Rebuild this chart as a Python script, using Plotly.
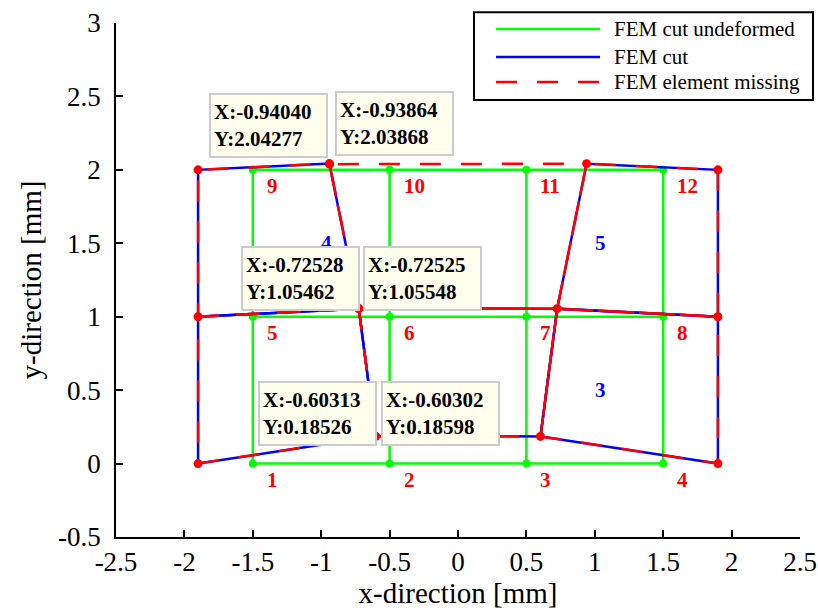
import numpy as np
import plotly.graph_objects as go

# ---------------- data ----------------
# undeformed mesh: 4 x 3 nodes, numbered row by row from the bottom
grid_x = [-1.5, -0.5, 0.5, 1.5]
grid_y = [0.0, 1.0, 2.0]

# deformed outer boundary columns
outer_left_x = -1.9
outer_right_x = 1.9
outer_y = [0.0, 1.0, 2.0]

# duplicated nodes along the cut (left side / right side), top -> bottom
cut_left_x = [-0.94040, -0.72528, -0.60313]
cut_left_y = [2.04277, 1.05462, 0.18526]
cut_right_x = [-0.93864, -0.72525, -0.60302]
cut_right_y = [2.03868, 1.05548, 0.18598]

# inner right column of deformed nodes, top -> bottom
inner_x = [0.9400, 0.7250, 0.6030]
inner_y = [2.0420, 1.0550, 0.1850]

# element connectivity (counter-clockwise) on the deformed nodes
elements_active = {
    1: ["BL", "cLb", "cLm", "ML"],
    2: ["cRb", "iB", "iM", "cRm"],
    3: ["iB", "BR", "MR", "iM"],
    4: ["ML", "cLm", "cLt", "TL"],
    5: ["iM", "MR", "TR", "iT"],
}
elements_missing = {
    6: ["cRm", "iM", "iT", "cRt"],
}
# undeformed grid cell (row, col) of the labelled elements
element_cells = {3: (0, 2), 4: (1, 0), 5: (1, 2)}

# axis ticks
x_ticks = [-2.5, -2.0, -1.5, -1.0, -0.5, 0.0, 0.5, 1.0, 1.5, 2.0, 2.5]
x_tick_labels = ["-2.5", "-2", "-1.5", "-1", "-0.5", "0", "0.5", "1", "1.5", "2", "2.5"]
y_ticks = [-0.5, 0.0, 0.5, 1.0, 1.5, 2.0, 2.5, 3.0]
y_tick_labels = ["-0.5", "0", "0.5", "1", "1.5", "2", "2.5", "3"]

# ---------------- styles ----------------
FONT = "Liberation Serif, Times New Roman, serif"
GREEN = "#00FF00"
BLUE = "#0000FF"
RED = "#FF0000"
DASH = "21px,20px"

# ---------------- derived geometry ----------------
nodes = {
    "BL": (outer_left_x, outer_y[0]), "ML": (outer_left_x, outer_y[1]), "TL": (outer_left_x, outer_y[2]),
    "BR": (outer_right_x, outer_y[0]), "MR": (outer_right_x, outer_y[1]), "TR": (outer_right_x, outer_y[2]),
    "cLt": (cut_left_x[0], cut_left_y[0]), "cLm": (cut_left_x[1], cut_left_y[1]), "cLb": (cut_left_x[2], cut_left_y[2]),
    "cRt": (cut_right_x[0], cut_right_y[0]), "cRm": (cut_right_x[1], cut_right_y[1]), "cRb": (cut_right_x[2], cut_right_y[2]),
    "iT": (inner_x[0], inner_y[0]), "iM": (inner_x[1], inner_y[1]), "iB": (inner_x[2], inner_y[2]),
}


def polygon_path(element_map):
    xs, ys = [], []
    for conn in element_map.values():
        for key in conn + [conn[0]]:
            xs.append(nodes[key][0])
            ys.append(nodes[key][1])
        xs.append(None)
        ys.append(None)
    return xs, ys


# undeformed grid lines
gx, gy = [], []
for yv in grid_y:
    gx += [grid_x[0], grid_x[-1], None]
    gy += [yv, yv, None]
for xv in grid_x:
    gx += [xv, xv, None]
    gy += [grid_y[0], grid_y[-1], None]
node_x = [xv for yv in grid_y for xv in grid_x]
node_y = [yv for yv in grid_y for xv in grid_x]

fig = go.Figure()

fig.add_trace(go.Scatter(x=gx, y=gy, mode="lines", line=dict(color=GREEN, width=2.5),
                         name="FEM cut undeformed", showlegend=False, hoverinfo="skip"))
fig.add_trace(go.Scatter(x=node_x, y=node_y, mode="markers", marker=dict(color=GREEN, size=8),
                         showlegend=False, hoverinfo="skip"))

bx, by = polygon_path(elements_active)
fig.add_trace(go.Scatter(x=bx, y=by, mode="lines", line=dict(color=BLUE, width=2.5),
                         name="FEM cut", showlegend=False, hoverinfo="skip"))

all_elements = dict(elements_active)
all_elements.update(elements_missing)
rx, ry = polygon_path(all_elements)
fig.add_trace(go.Scatter(x=rx, y=ry, mode="lines", line=dict(color=RED, width=2.5, dash=DASH),
                         name="FEM element missing", showlegend=False, hoverinfo="skip"))

fig.add_trace(go.Scatter(x=[p[0] for p in nodes.values()], y=[p[1] for p in nodes.values()],
                         mode="markers", marker=dict(color=RED, size=9),
                         showlegend=False, hoverinfo="skip"))

annotations = []

# node numbers of the undeformed mesh
for i, (xv, yv) in enumerate(zip(node_x, node_y), start=1):
    annotations.append(dict(x=xv, y=yv, xref="x", yref="y", text=f"<b>{i}</b>", showarrow=False,
                            xanchor="left", yanchor="middle", xshift=12, yshift=-16,
                            font=dict(family=FONT, size=21, color=RED)))

# element numbers at the undeformed cell centres
for eid, (r, c) in element_cells.items():
    cx = float(np.mean([grid_x[c], grid_x[c + 1]]))
    cy = float(np.mean([grid_y[r], grid_y[r + 1]]))
    annotations.append(dict(x=cx, y=cy, xref="x", yref="y", text=f"<b>{eid}</b>", showarrow=False,
                            xanchor="left", yanchor="middle", xshift=-2,
                            font=dict(family=FONT, size=21, color=BLUE)))

# data tips on both sides of the cut
tip_points = list(zip(cut_left_x, cut_left_y)) + list(zip(cut_right_x, cut_right_y))
tip_style = [
    ("right", -1, 6), ("right", 1, -2), ("right", 2, -10),
    ("left", 5, 8), ("left", 4, -2), ("left", 5, -10),
]
for (px, py), (anchor, dx, dy) in zip(tip_points, tip_style):
    annotations.append(dict(x=px, y=py, xref="x", yref="y",
                            text=f"<b>X:{px:.5f}<br>Y:{py:.5f}</b>", showarrow=False,
                            xanchor=anchor, yanchor="bottom", xshift=dx, yshift=dy,
                            align="left", valign="middle", width=109, height=55,
                            bgcolor="#FFFFEE", bordercolor="#CCCCCC", borderwidth=2, borderpad=3,
                            font=dict(family=FONT, size=21, color="black")))

# legend box
legend_entries = [("FEM cut undeformed", GREEN, "solid"),
                  ("FEM cut", BLUE, "solid"),
                  ("FEM element missing", RED, DASH)]
shapes = [dict(type="rect", xref="paper", yref="paper", x0=0.5234, x1=1.019, y0=0.850, y1=1.021,
               line=dict(color="black", width=2), fillcolor="white", layer="above")]
row_y = [0.9883, 0.9339, 0.8852]
for (label, color, dash), yy in zip(legend_entries, row_y):
    shapes.append(dict(type="line", xref="paper", yref="paper", x0=0.5556, x1=0.7076, y0=yy, y1=yy,
                       line=dict(color=color, width=2.5, dash=dash), layer="above"))
    annotations.append(dict(x=0.7251, y=yy, xref="paper", yref="paper", text=label, showarrow=False,
                            xanchor="left", yanchor="middle",
                            font=dict(family=FONT, size=21, color="black")))

axis_common = dict(showline=True, linecolor="black", linewidth=1.5, ticks="inside", ticklen=7,
                   tickwidth=1.5, tickcolor="black", showgrid=False, zeroline=False, mirror=False,
                   automargin=False, tickmode="array",
                   tickfont=dict(family=FONT, size=27, color="black"))
title_font = dict(family=FONT, size=29, color="black")

fig.update_layout(
    width=818, height=612,
    margin=dict(l=116, r=18, t=23, b=75, autoexpand=False),
    paper_bgcolor="white", plot_bgcolor="white",
    xaxis=dict(range=[-2.5, 2.5], tickvals=x_ticks, ticktext=x_tick_labels, ticklabelstandoff=0,
               title=dict(text="x-direction [mm]", font=title_font, standoff=6),
               **axis_common),
    yaxis=dict(range=[-0.5, 3], tickvals=y_ticks, ticktext=y_tick_labels, ticklabelstandoff=8,
               title=dict(text="y-direction [mm]", font=title_font, standoff=8),
               **axis_common),
    annotations=annotations,
    shapes=shapes,
    showlegend=False,
)

fig.write_html("out.html")
